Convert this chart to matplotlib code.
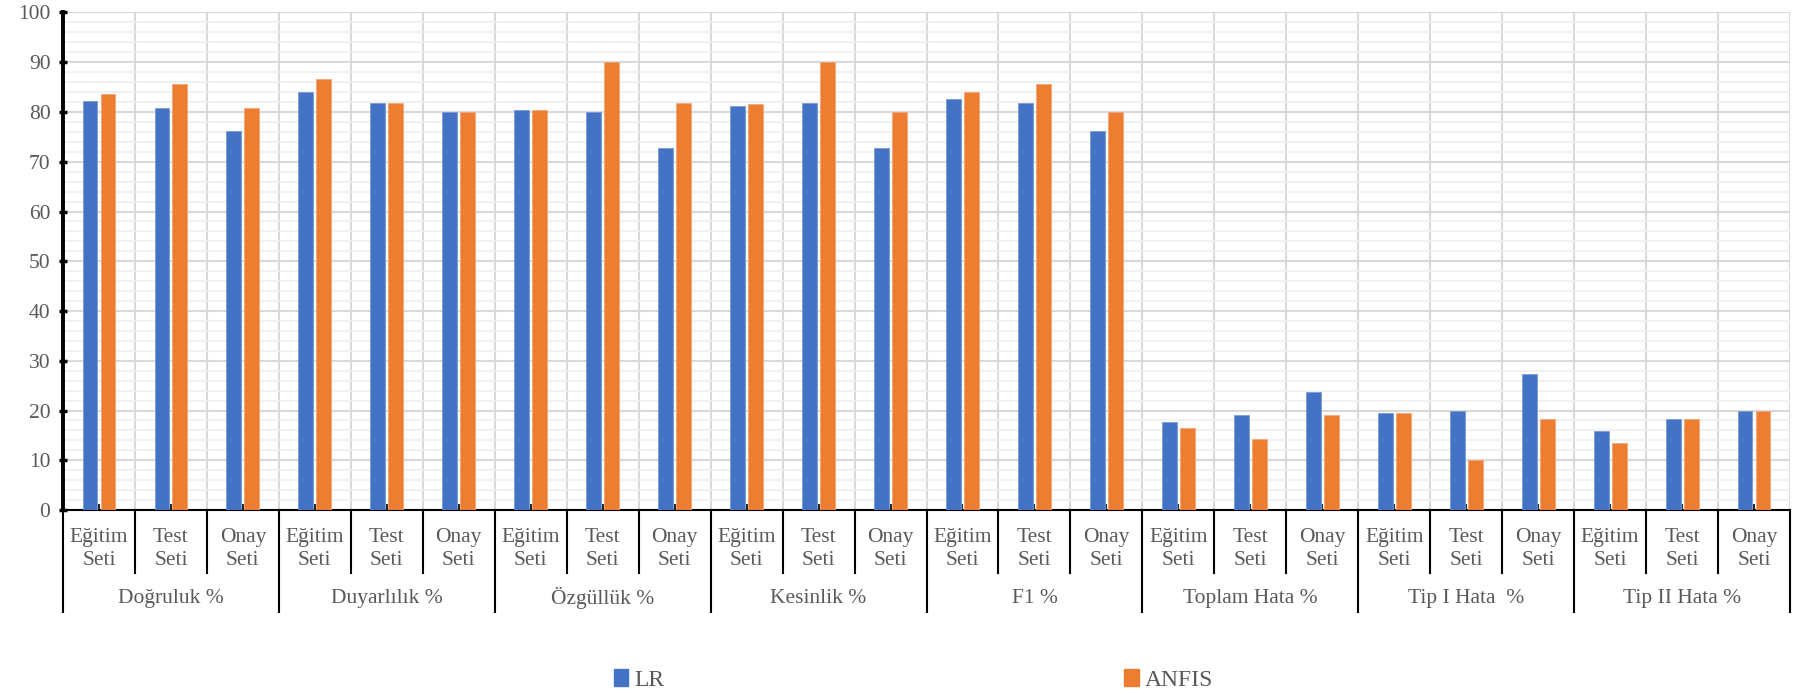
import numpy as np
import matplotlib.pyplot as plt
import matplotlib.transforms as mtransforms
from matplotlib.patches import Patch

plt.rcParams['font.family'] = ['Liberation Serif', 'DejaVu Serif']

# ======================== Data ========================
groups = ['Doğruluk %', 'Duyarlılık %', 'Özgüllük %', 'Kesinlik %', 'F1 %',
          'Toplam Hata %', 'Tip I Hata  %', 'Tip II Hata %']
subsets = ['Eğitim\nSeti', 'Test\nSeti', 'Onay\nSeti']

lr = [82.3, 80.9, 76.2,
      84.1, 81.8, 80.0,
      80.5, 80.0, 72.7,
      81.2, 81.8, 72.7,
      82.6, 81.8, 76.2,
      17.7, 19.1, 23.8,
      19.5, 20.0, 27.3,
      15.9, 18.2, 20.0]
anfis = [83.6, 85.7, 80.9,
         86.6, 81.8, 80.0,
         80.5, 90.0, 81.8,
         81.6, 90.0, 80.0,
         84.0, 85.7, 80.0,
         16.4, 14.3, 19.1,
         19.5, 10.0, 18.2,
         13.4, 18.2, 20.0]

blue = '#4472C4'
orange = '#ED7D31'
txt = '#595959'

n = len(lr)
x = np.arange(n)

fig = plt.figure(figsize=(17.98, 6.94), dpi=100)
ax = fig.add_axes([0.035, 0.2651, 0.9606, 0.7169])

w = 0.205
ax.bar(x - 0.125, lr, w, color=blue, edgecolor='#7a9bd6', linewidth=0.6, zorder=3)
ax.bar(x + 0.125, anfis, w, color=orange, edgecolor='#f4a777', linewidth=0.6, zorder=3)

ax.set_xlim(-0.5, n - 0.5)
ax.set_ylim(0, 100)

# grid
ax.set_yticks(np.arange(0, 101, 10))
ax.set_yticks(np.arange(0, 101, 2), minor=True)
ax.grid(axis='y', which='minor', color='#efefef', lw=1.2, zorder=0)
ax.grid(axis='y', which='major', color='#d9d9d9', lw=1.5, zorder=1)
for b in np.arange(-0.5, n, 1.0)[1:]:
    ax.axvline(b, color='#d9d9d9', lw=1.5, zorder=1)

for s in ['top', 'right']:
    ax.spines[s].set_visible(False)
ax.spines['left'].set_linewidth(2.8)
ax.spines['bottom'].set_linewidth(1.5)

ax.tick_params(axis='y', which='major', direction='inout', length=6, width=2.5,
               labelsize=15.5, labelcolor=txt, pad=6)
ax.tick_params(axis='y', which='minor', length=0)
ax.set_xticks(x)
ax.tick_params(axis='x', direction='in', length=4, width=1.2, labelbottom=False)

# category labels under the axis
trans = mtransforms.blended_transform_factory(ax.transData, ax.transAxes)
for i in range(n):
    ax.text(i, -0.078, subsets[i % 3], transform=trans, ha='center', va='center',
            fontsize=15.5, color=txt, linespacing=1.3)
for b in np.arange(-0.5, n, 1.0):
    low = -0.205 if (b + 0.5) % 3 == 0 else -0.127
    ax.plot([b, b], [0, low], transform=trans, color='black', lw=1.5, clip_on=False)
for g, name in enumerate(groups):
    ax.text(3 * g + 1, -0.177, name, transform=trans, ha='center', va='center',
            fontsize=15.5, color=txt)

handles = [Patch(color=blue, label='LR'), Patch(color=orange, label='ANFIS')]
fig.legend(handles=handles, loc='center', bbox_to_anchor=(0.508, 0.02), ncol=2,
           frameon=False, fontsize=17, labelcolor=txt, handlelength=0.6,
           handleheight=0.7, handletextpad=0.25, columnspacing=19.5)

fig.savefig('out.png', dpi=100)
